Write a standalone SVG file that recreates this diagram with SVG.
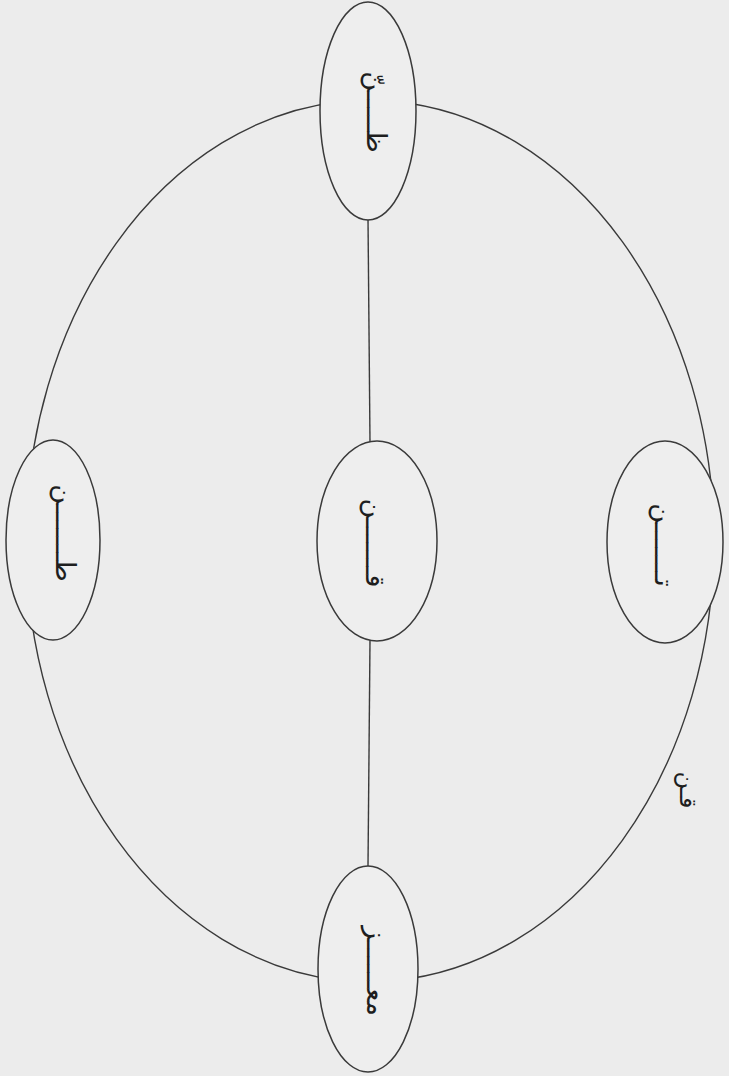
<svg xmlns="http://www.w3.org/2000/svg" width="729" height="1076" viewBox="0 0 729 1076">
<style>
.bg{fill:#ececec}
.node{fill:#eeeeee;stroke:#3a3a3a;stroke-width:1.5}
.edge{fill:none;stroke:#3a3a3a;stroke-width:1.4}
.lbl{font-family:"DejaVu Sans","Noto Sans",sans-serif;font-size:27px;fill:#1e1e1e;text-anchor:middle}
</style>
<rect class="bg" x="0" y="0" width="729" height="1076"/>
<g id="connectors">
<path class="edge" d="M340,101.7 A344,441 0 0,0 26,541"/>
<path class="edge" d="M396,101.7 A344,441 0 0,1 714,541"/>
<path class="edge" d="M26,541 A344,441 0 0,0 340,980.3"/>
<path class="edge" d="M714,541 A344,441 0 0,1 396,980.3"/>
<path class="edge" d="M368,218 L370,442"/>
<path class="edge" d="M370,640 L368,867"/>
</g>
<g id="node-top">
<ellipse class="node" cx="368" cy="111" rx="48" ry="109"/>
<text class="lbl" transform="translate(367,112) rotate(90)">ظـــــنّ</text>
</g>
<g id="node-left">
<ellipse class="node" cx="53" cy="540" rx="47" ry="100"/>
<text class="lbl" transform="translate(56,533) rotate(90)">طـــــــن</text>
</g>
<g id="node-center">
<ellipse class="node" cx="377" cy="541" rx="60" ry="100"/>
<text class="lbl" transform="translate(366,543) rotate(90)">قـــــــن</text>
</g>
<g id="node-right">
<ellipse class="node" cx="665" cy="542" rx="58" ry="101"/>
<text class="lbl" transform="translate(655,545) rotate(90)">تـــــــن</text>
</g>
<g id="node-bottom">
<ellipse class="node" cx="368" cy="969" rx="50" ry="103"/>
<text class="lbl" transform="translate(367,971) rotate(90)">معــــــز</text>
</g>
<g id="label">
<text class="lbl" transform="translate(680,790) rotate(90)" style="font-size:24px">قـن</text>
</g>
</svg>
